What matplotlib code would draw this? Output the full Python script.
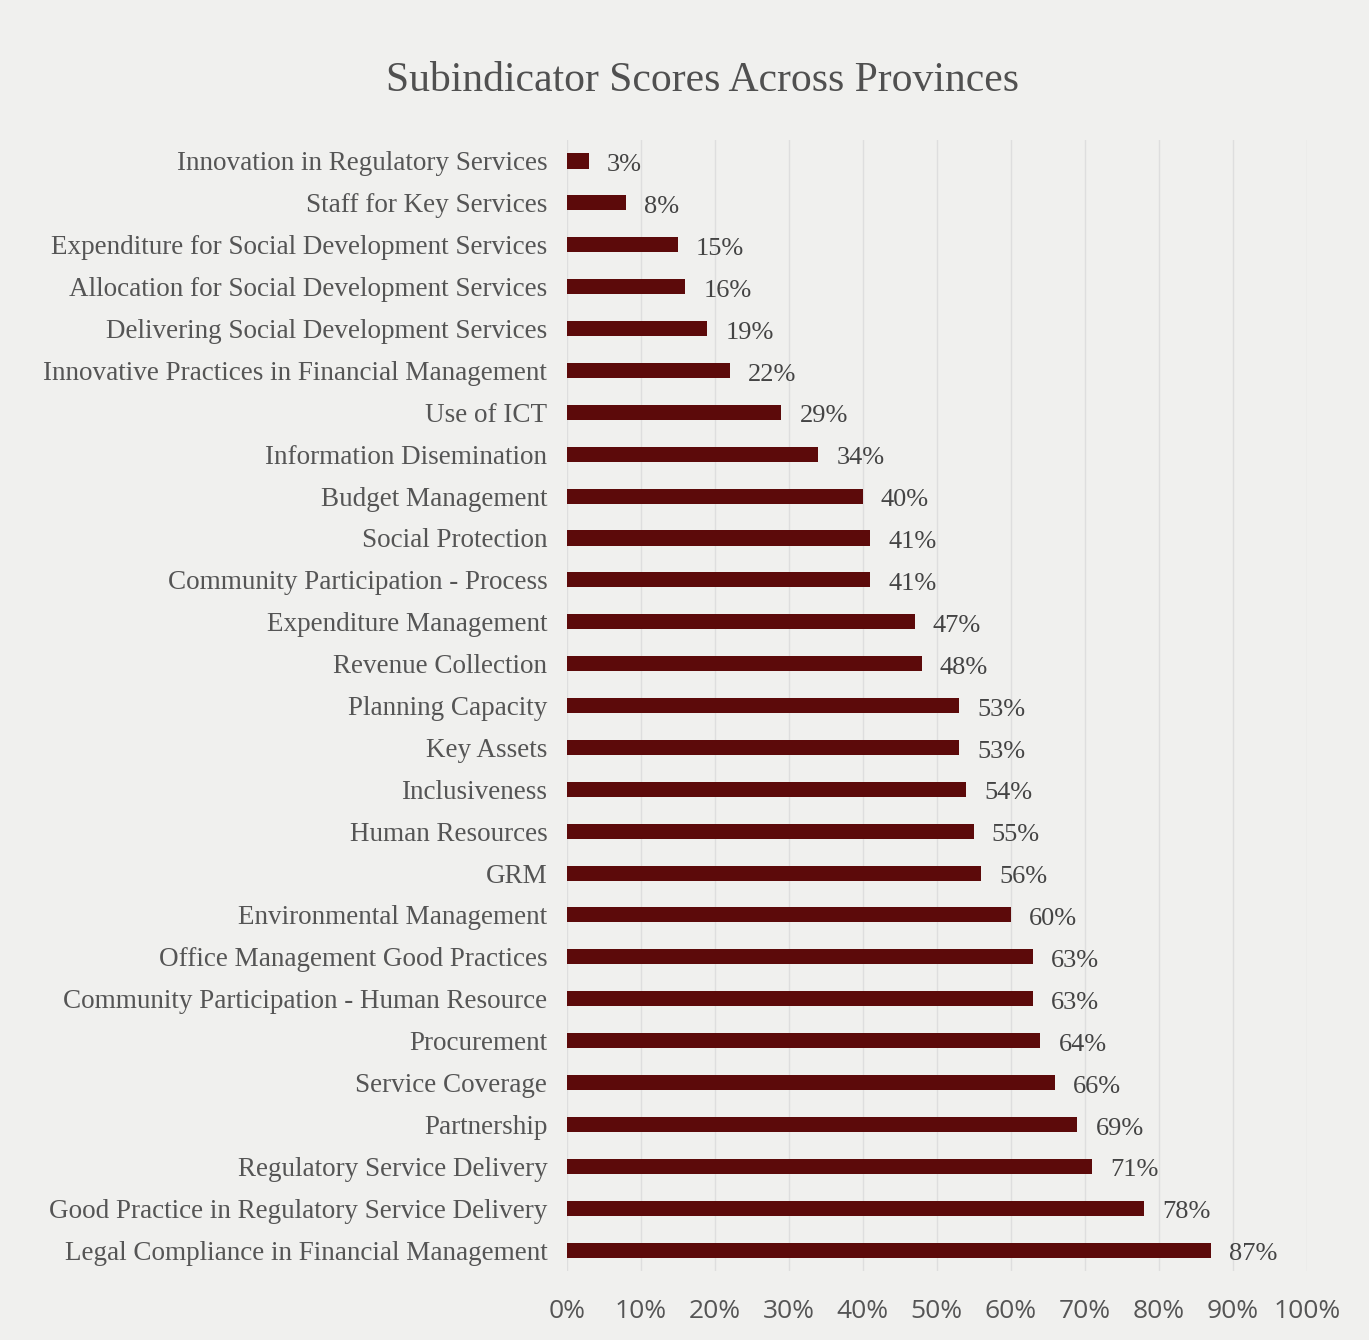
import matplotlib
matplotlib.use("Agg")
import matplotlib.pyplot as plt
from matplotlib.ticker import MultipleLocator, FuncFormatter

categories = [
    "Innovation in Regulatory Services",
    "Staff for Key Services",
    "Expenditure for Social Development Services",
    "Allocation for Social Development Services",
    "Delivering Social Development Services",
    "Innovative Practices in Financial Management",
    "Use of ICT",
    "Information Disemination",
    "Budget Management",
    "Social Protection",
    "Community Participation - Process",
    "Expenditure Management",
    "Revenue Collection",
    "Planning Capacity",
    "Key Assets",
    "Inclusiveness",
    "Human Resources",
    "GRM",
    "Environmental Management",
    "Office Management Good Practices",
    "Community Participation - Human Resource",
    "Procurement",
    "Service Coverage",
    "Partnership",
    "Regulatory Service Delivery",
    "Good Practice in Regulatory Service Delivery",
    "Legal Compliance in Financial Management",
]
scores = [3, 8, 15, 16, 19, 22, 29, 34, 40, 41, 41, 47, 48, 53, 53, 54, 55, 56,
          60, 63, 63, 64, 66, 69, 71, 78, 87]
title = "Subindicator Scores Across Provinces"

bg = "#f0f0ee"
bar_color = "#5c0a0a"
text_color = "#555555"

fig = plt.figure(figsize=(13.69, 13.40), dpi=100, facecolor=bg)
ax = fig.add_axes([0.414, 0.0515, 0.5405, 0.844], facecolor=bg)

n = len(categories)
ypos = list(range(n))
ax.barh(ypos, scores, height=0.36, color=bar_color, zorder=3)
ax.set_ylim(n - 0.5, -0.5)
ax.set_xlim(0, 100)
ax.set_yticks(ypos)
ax.set_yticklabels(categories, fontsize=19.5, family="Liberation Serif", color=text_color)
ax.xaxis.set_major_locator(MultipleLocator(10))
ax.xaxis.set_major_formatter(FuncFormatter(lambda v, p: f"{int(v)}%"))
for lbl in ax.get_xticklabels():
    lbl.set_fontsize(19)
    lbl.set_family("Open Sans")
    lbl.set_color(text_color)
ax.tick_params(axis="both", length=0)
ax.tick_params(axis="y", pad=14)
ax.tick_params(axis="x", pad=20)
ax.grid(axis="x", color="#dedede", linewidth=1.0, zorder=0)
for s in ax.spines.values():
    s.set_visible(False)

for y, v in zip(ypos, scores):
    ax.annotate(f"{v}%", xy=(v, y), xytext=(13, -3), textcoords="offset points",
                ha="left", va="center", fontsize=19, family="Liberation Serif",
                color="#444444")

fig.text(0.513, 0.94, title, ha="center", va="center", fontsize=30,
         family="Liberation Serif", color="#505050")

fig.savefig("out.png", dpi=100, facecolor=bg)
